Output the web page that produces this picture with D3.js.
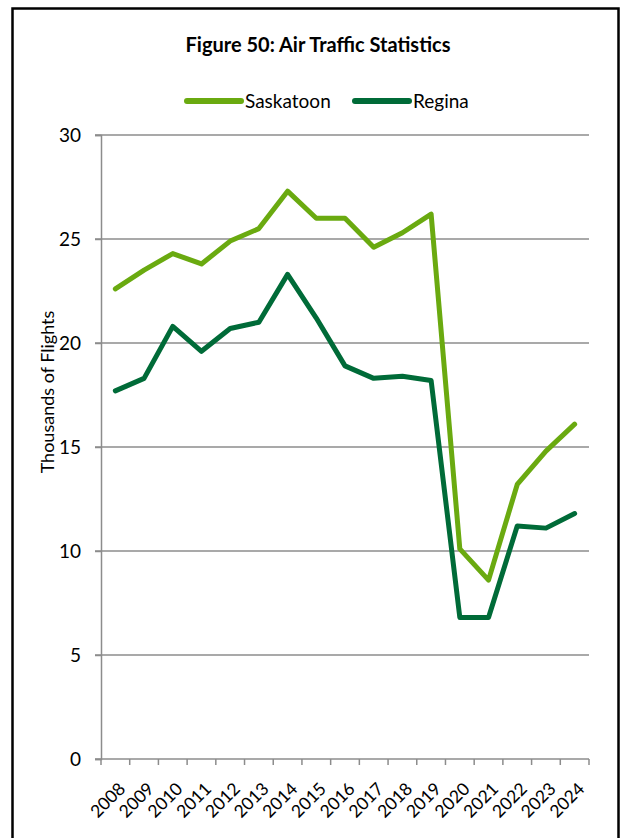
<!DOCTYPE html>
<html>
<head>
<meta charset="utf-8">
<script src="https://cdn.jsdelivr.net/npm/d3@7"></script>
<style>
  body { margin: 0; background: #fff; }
  text { font-family: Lato, "Open Sans", sans-serif; fill: #000; }
</style>
</head>
<body>
<div id="chart"></div>
<script>
// Chart data
const years = ["2008","2009","2010","2011","2012","2013","2014","2015","2016","2017","2018","2019","2020","2021","2022","2023","2024"];
const saskatoon = [22.6, 23.5, 24.3, 23.8, 24.9, 25.5, 27.3, 26.0, 26.0, 24.6, 25.3, 26.2, 10.1, 8.6, 13.2, 14.8, 16.1];
const regina = [17.7, 18.3, 20.8, 19.6, 20.7, 21.0, 23.3, 21.2, 18.9, 18.3, 18.4, 18.2, 6.8, 6.8, 11.2, 11.1, 11.8];
const yTicks = [0, 5, 10, 15, 20, 25, 30];

const width = 624, height = 838;
const margin = {top: 135, right: 35, bottom: 79, left: 101};

const svg = d3.select("#chart").append("svg")
    .attr("width", width)
    .attr("height", height);

// outer frame (bottom edge falls outside the picture)
svg.append("rect")
    .attr("x", 12.5).attr("y", 8.5)
    .attr("width", 606).attr("height", 860)
    .attr("fill", "none")
    .attr("stroke", "#000")
    .attr("stroke-width", 2.5);

const x = d3.scaleBand()
    .domain(years)
    .range([margin.left, width - margin.right]);

const y = d3.scaleLinear()
    .domain([0, 30])
    .range([height - margin.bottom, margin.top]);

// gridlines
svg.append("g")
    .selectAll("line")
    .data(yTicks.filter(d => d > 0))
    .enter().append("line")
    .attr("x1", margin.left - 6)
    .attr("x2", width - margin.right)
    .attr("y1", d => y(d))
    .attr("y2", d => y(d))
    .attr("stroke", "#8c8c8c")
    .attr("stroke-width", 1.5);

// y axis
const yAxis = svg.append("g")
    .attr("transform", `translate(${margin.left},0)`)
    .call(d3.axisLeft(y).tickValues(yTicks).tickSize(6).tickPadding(14));
yAxis.select(".domain").attr("stroke", "#8c8c8c").attr("stroke-width", 1.5);
yAxis.selectAll(".tick line").attr("stroke", "#8c8c8c").attr("stroke-width", 1.5);
yAxis.selectAll(".tick text")
    .style("font-size", "19px")
    .style("font-family", "Lato, sans-serif")
    .attr("fill", "#000");

// x axis: ticks sit between categories
const xAxisG = svg.append("g")
    .attr("transform", `translate(0,${y(0)})`);
xAxisG.append("line")
    .attr("x1", margin.left - 6)
    .attr("x2", width - margin.right)
    .attr("stroke", "#8c8c8c")
    .attr("stroke-width", 1.5);
const bounds = years.map(d => x(d)).concat([x(years[years.length - 1]) + x.bandwidth()]);
xAxisG.selectAll(".xtick")
    .data(bounds)
    .enter().append("line")
    .attr("class", "xtick")
    .attr("x1", d => d).attr("x2", d => d)
    .attr("y1", 0).attr("y2", 6)
    .attr("stroke", "#8c8c8c")
    .attr("stroke-width", 1.5);
xAxisG.selectAll(".xlabel")
    .data(years)
    .enter().append("text")
    .attr("class", "xlabel")
    .attr("text-anchor", "end")
    .attr("transform", d => `translate(${x(d) + x.bandwidth() / 2 + 11},${31}) rotate(-45)`)
    .style("font-size", "17.5px")
    .text(d => d);

// y axis title
svg.append("text")
    .attr("transform", `translate(54,392) rotate(-90)`)
    .attr("text-anchor", "middle")
    .style("font-size", "18px")
    .text("Thousands of Flights");

// title
svg.append("text")
    .attr("x", 318).attr("y", 52)
    .attr("text-anchor", "middle")
    .style("font-size", "20px")
    .style("font-weight", "bold")
    .text("Figure 50: Air Traffic Statistics");

// lines
const series = [
    {name: "Saskatoon", values: saskatoon, color: "#6aaa10"},
    {name: "Regina", values: regina, color: "#006b38"}
];

const line = d3.line()
    .x((d, i) => x(years[i]) + x.bandwidth() / 2)
    .y(d => y(d));

svg.append("g")
    .selectAll("path")
    .data(series)
    .enter().append("path")
    .attr("d", d => line(d.values))
    .attr("fill", "none")
    .attr("stroke", d => d.color)
    .attr("stroke-width", 5)
    .attr("stroke-linejoin", "round")
    .attr("stroke-linecap", "round");

// legend
const legendX = [187, 355];
const legend = svg.append("g")
    .selectAll("g")
    .data(series)
    .enter().append("g")
    .attr("transform", (d, i) => `translate(${legendX[i]},101)`);
legend.append("line")
    .attr("x1", 0).attr("x2", 54)
    .attr("stroke", d => d.color)
    .attr("stroke-width", 6)
    .attr("stroke-linecap", "round");
legend.append("text")
    .attr("x", 58).attr("y", 7)
    .style("font-size", "19px")
    .text(d => d.name);
</script>
</body>
</html>
